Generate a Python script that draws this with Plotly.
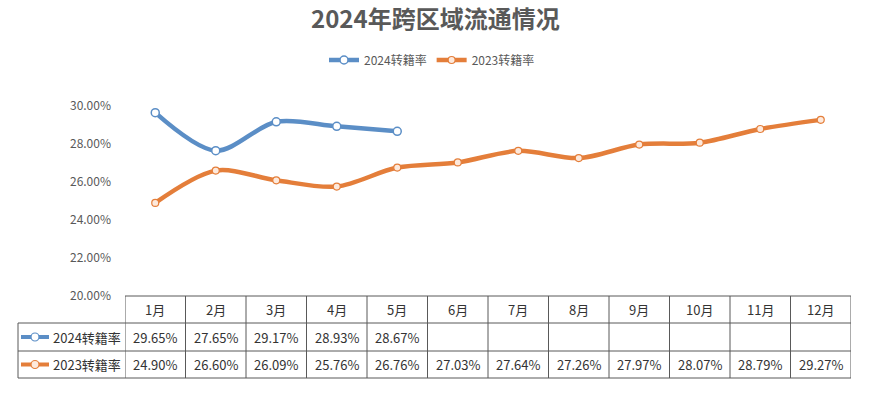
import plotly.graph_objects as go

months = ["1月", "2月", "3月", "4月", "5月", "6月", "7月", "8月", "9月", "10月", "11月", "12月"]
s2024_name = "2024转籍率"
s2023_name = "2023转籍率"
s2024 = [0.2965, 0.2765, 0.2917, 0.2893, 0.2867]
s2023 = [0.2490, 0.2660, 0.2609, 0.2576, 0.2676, 0.2703, 0.2764, 0.2726, 0.2797, 0.2807, 0.2879, 0.2927]
y_ticks = [0.20, 0.22, 0.24, 0.26, 0.28, 0.30]

BLUE = "#5B8EC6"
ORANGE = "#E47E3A"
TXT = "#595959"
FONT = "Noto Sans CJK SC"

W, H = 872, 393
L, R, T, B = 125, 21, 106, 97
PH = H - T - B
PW = W - L - R

def py(px):
    return (H - B - px) / PH

def pxx(px):
    return (px - L) / PW

xs = list(range(len(months)))
fig = go.Figure()
fig.add_trace(go.Scatter(
    x=xs[:len(s2024)], y=s2024, name=s2024_name, mode="lines+markers",
    line=dict(color=BLUE, width=4.5, shape="spline", smoothing=0.9),
    marker=dict(size=8, color="white", line=dict(color=BLUE, width=1.5)),
    cliponaxis=False))
fig.add_trace(go.Scatter(
    x=xs, y=s2023, name=s2023_name, mode="lines+markers",
    line=dict(color=ORANGE, width=4.5, shape="spline", smoothing=0.9),
    marker=dict(size=7, color="#FDE9DC", line=dict(color=ORANGE, width=1.2)),
    cliponaxis=False))

shapes = []
ann = []
lc = dict(color="#595959", width=1)
r0, r1, r2, r3 = py(296), py(323), py(351), py(378)
shapes.append(dict(type="line", xref="x", yref="paper", x0=-0.5, x1=11.5, y0=r0, y1=r0, line=lc))
for yy in (r1, r2, r3):
    shapes.append(dict(type="line", xref="paper", yref="paper", x0=pxx(18), x1=1, y0=yy, y1=yy, line=lc))
for i in range(len(months) + 1):
    shapes.append(dict(type="line", xref="x", yref="paper", x0=i - 0.5, x1=i - 0.5, y0=r0, y1=r3, line=lc))
shapes.append(dict(type="line", xref="paper", yref="paper", x0=pxx(18), x1=pxx(18), y0=r1, y1=r3, line=lc))

tf = dict(family=FONT, size=13, color="#333333")
for i, m in enumerate(months):
    ann.append(dict(x=i, y=(r0 + r1) / 2, xref="x", yref="paper", text=m, showarrow=False,
                    xanchor="center", yanchor="middle", font=tf))
for i, v in enumerate(s2024):
    ann.append(dict(x=i, y=(r1 + r2) / 2, xref="x", yref="paper", text=f"{v*100:.2f}%", showarrow=False,
                    xanchor="center", yanchor="middle", font=tf))
for i, v in enumerate(s2023):
    ann.append(dict(x=i, y=(r2 + r3) / 2, xref="x", yref="paper", text=f"{v*100:.2f}%", showarrow=False,
                    xanchor="center", yanchor="middle", font=tf))

for (name, col, fill), (ya, yb) in zip([(s2024_name, BLUE, "white"), (s2023_name, ORANGE, "#FDE9DC")], [(r1, r2), (r2, r3)]):
    yc = (ya + yb) / 2
    shapes.append(dict(type="line", xref="paper", yref="paper", x0=pxx(21), x1=pxx(49), y0=yc, y1=yc,
                       line=dict(color=col, width=4)))
    rpx = 4 / PW
    rpy = 4 / PH
    shapes.append(dict(type="circle", xref="paper", yref="paper", x0=pxx(35) - rpx, x1=pxx(35) + rpx,
                       y0=yc - rpy, y1=yc + rpy, fillcolor=fill, line=dict(color=col, width=1.2)))
    ann.append(dict(x=pxx(123), y=yc, xref="paper", yref="paper", text=name, showarrow=False,
                    xanchor="right", yanchor="middle", font=tf))

ann.append(dict(x=pxx(435), y=py(18), xref="paper", yref="paper", text="<b>2024年跨区域流通情况</b>",
                showarrow=False, xanchor="center", yanchor="middle",
                font=dict(family=FONT, size=24, color=TXT)))

fig.update_layout(
    width=W, height=H,
    margin=dict(l=L, r=R, t=T, b=B, autoexpand=False),
    paper_bgcolor="white", plot_bgcolor="white",
    legend=dict(orientation="h", x=pxx(432), xanchor="center",
                y=py(60), yanchor="middle",
                font=dict(family=FONT, size=12, color=TXT), itemwidth=30, bgcolor="rgba(0,0,0,0)"),
    xaxis=dict(range=[-0.5, 11.5], showticklabels=False, showgrid=False, zeroline=False, showline=False),
    yaxis=dict(range=[0.20, 0.30], tickvals=y_ticks, tickformat=".2%", showgrid=False, zeroline=False,
               showline=False, ticks="", tickfont=dict(family=FONT, size=12, color=TXT), ticklabelstandoff=13),
    shapes=shapes, annotations=ann,
    font=dict(family=FONT),
)
fig.write_html("out.html", config={"displayModeBar": False},
               post_script="document.body.style.margin='0';document.body.style.overflow='hidden';")
